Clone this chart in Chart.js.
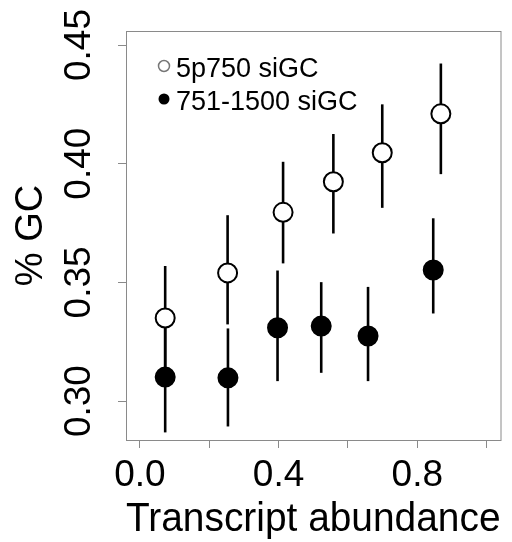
<!DOCTYPE html>
<html>
<head>
<meta charset="utf-8">
<script src="https://cdn.jsdelivr.net/npm/chart.js@4"></script>
<style>
  html, body { margin: 0; padding: 0; background: #fff; }
  #wrap { width: 512px; height: 542px; }
</style>
</head>
<body>
<div id="wrap"><canvas id="grafico" width="512" height="542"></canvas></div>
<script>
// dados
const xAberto = [0.073, 0.253, 0.413, 0.558, 0.699, 0.868];
const yAberto = [0.335, 0.354, 0.3795, 0.3924, 0.4046, 0.421];
const minAberto = [0.313, 0.3323, 0.358, 0.3706, 0.3814, 0.3956];
const maxAberto = [0.3569, 0.3783, 0.4008, 0.4125, 0.425, 0.4422];

const xCheio = [0.073, 0.254, 0.397, 0.523, 0.658, 0.846];
const yCheio = [0.3101, 0.3098, 0.3309, 0.3316, 0.3274, 0.3552];
const minCheio = [0.2868, 0.2893, 0.3084, 0.3119, 0.3084, 0.3369];
const maxCheio = [0.333, 0.3306, 0.355, 0.3501, 0.3481, 0.377];

const nomesSeries = ['5p750 siGC', '751-1500 siGC'];
const ticksX = [0, 0.2, 0.4, 0.6, 0.8, 1.0];
const rotulosX = ['0.0', '', '0.4', '', '0.8', ''];
const ticksY = [0.30, 0.35, 0.40, 0.45];
const rotulosY = ['0.30', '0.35', '0.40', '0.45'];

const fonte = '"Liberation Sans", Arial, sans-serif';
const cinza = '#8a8a8a';

// barras de erro desenhadas antes dos pontos
const barrasErro = {
    id: 'barrasErro',
    beforeDatasetsDraw(chart) {
        const ctx = chart.ctx;
        const y = chart.scales.y;
        ctx.save();
        ctx.strokeStyle = '#000';
        ctx.lineWidth = 2.6;
        chart.data.datasets.forEach((ds, i) => {
            const meta = chart.getDatasetMeta(i);
            meta.data.forEach((pt, j) => {
                ctx.beginPath();
                ctx.moveTo(pt.x, y.getPixelForValue(ds.baixo[j]));
                ctx.lineTo(pt.x, y.getPixelForValue(ds.alto[j]));
                ctx.stroke();
            });
        });
        ctx.restore();
    }
};

// caixa, rótulos do eixo y (girados) e legenda
const extras = {
    id: 'extras',
    afterDraw(chart) {
        const ctx = chart.ctx;
        const a = chart.chartArea;
        const y = chart.scales.y;
        ctx.save();
        ctx.strokeStyle = cinza;
        ctx.lineWidth = 1;
        ctx.strokeRect(a.left + 0.5, a.top + 0.5, a.right - a.left, a.bottom - a.top);

        ctx.fillStyle = '#000';
        ctx.font = '37px ' + fonte;
        ctx.textAlign = 'center';
        ctx.textBaseline = 'alphabetic';
        y.ticks.forEach((t, i) => {
            ctx.save();
            ctx.translate(90, y.getPixelForValue(t.value));
            ctx.rotate(-Math.PI / 2);
            ctx.fillText(rotulosY[i], 0, 0);
            ctx.restore();
        });

        // legenda
        ctx.textAlign = 'left';
        ctx.font = '27px ' + fonte;
        const linhas = [66, 99];
        chart.data.datasets.forEach((ds, i) => {
            ctx.beginPath();
            ctx.arc(164, linhas[i], 5.5, 0, Math.PI * 2);
            if (i === 0) {
                ctx.fillStyle = '#fff';
                ctx.fill();
                ctx.strokeStyle = '#777';
                ctx.lineWidth = 1.5;
                ctx.stroke();
            } else {
                ctx.fillStyle = '#000';
                ctx.fill();
            }
            ctx.fillStyle = '#000';
            ctx.fillText(ds.label, 176, linhas[i] + 11);
        });
        ctx.restore();
    }
};

const ctxGrafico = document.getElementById('grafico').getContext('2d');
new Chart(ctxGrafico, {
    type: 'scatter',
    data: {
        datasets: [{
            label: nomesSeries[0],
            data: xAberto.map((x, i) => ({ x: x, y: yAberto[i] })),
            baixo: minAberto,
            alto: maxAberto,
            pointRadius: 9.5,
            pointHoverRadius: 9.5,
            pointBackgroundColor: '#fff',
            pointBorderColor: '#000',
            pointBorderWidth: 2
        }, {
            label: nomesSeries[1],
            data: xCheio.map((x, i) => ({ x: x, y: yCheio[i] })),
            baixo: minCheio,
            alto: maxCheio,
            pointRadius: 9.5,
            pointHoverRadius: 9.5,
            pointBackgroundColor: '#000',
            pointBorderColor: '#000',
            pointBorderWidth: 2
        }]
    },
    options: {
        responsive: false,
        animation: false,
        events: [],
        layout: { padding: { top: 31, right: 8, left: 0, bottom: 0 } },
        plugins: { legend: { display: false }, tooltip: { enabled: false } },
        scales: {
            x: {
                type: 'linear',
                min: -0.04,
                max: 1.04,
                afterBuildTicks: s => { s.ticks = ticksX.map(v => ({ value: v })); },
                afterFit: s => { s.height = 102; },
                grid: { drawOnChartArea: false, drawTicks: true, tickLength: 8, color: cinza },
                border: { display: false },
                ticks: {
                    autoSkip: false,
                    maxRotation: 0,
                    padding: 6,
                    color: '#000',
                    font: { family: fonte, size: 37 },
                    callback: (v, i) => rotulosX[i]
                },
                title: {
                    display: true,
                    text: 'Transcript abundance',
                    color: '#000',
                    font: { family: fonte, size: 40, lineHeight: 1 },
                    padding: { top: 0, bottom: 2 }
                }
            },
            y: {
                type: 'linear',
                min: 0.2836,
                max: 0.4559,
                afterBuildTicks: s => { s.ticks = ticksY.map(v => ({ value: v })); },
                afterFit: s => { s.width = 126; },
                grid: { drawOnChartArea: false, drawTicks: true, tickLength: 8, color: cinza },
                border: { display: false },
                ticks: { display: false },
                title: {
                    display: true,
                    text: '% GC',
                    color: '#000',
                    font: { family: fonte, size: 38, lineHeight: 1 },
                    padding: { top: 13, bottom: 0 }
                }
            }
        }
    },
    plugins: [barrasErro, extras]
});
</script>
</body>
</html>
